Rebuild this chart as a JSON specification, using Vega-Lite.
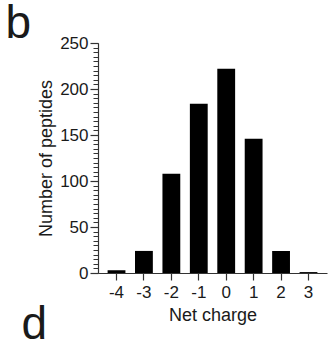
{
  "$schema": "https://vega.github.io/schema/vega-lite/v6.json",
  "width": 229,
  "height": 230,
  "autosize": {"type": "none"},
  "padding": {"left": 98, "top": 43, "right": 1, "bottom": 66},
  "background": "white",
  "config": {
    "view": {"stroke": null},
    "font": "Liberation Sans",
    "axis": {"grid": false, "labelColor": "#1a1a1a", "titleColor": "#1a1a1a", "labelFont": "Liberation Sans", "titleFont": "Liberation Sans", "titleFontWeight": "normal"}
  },
  "data": {
    "values": [
      {"charge": "-4", "count": 3},
      {"charge": "-3", "count": 24},
      {"charge": "-2", "count": 108},
      {"charge": "-1", "count": 184},
      {"charge": "0", "count": 222},
      {"charge": "1", "count": 146},
      {"charge": "2", "count": 24},
      {"charge": "3", "count": 1}
    ]
  },
  "resolve": {"axis": {"x": "independent", "y": "independent"}},
  "layer": [
    {
      "mark": {"type": "rule", "opacity": 0},
      "encoding": {
        "x": {"field": "charge", "type": "ordinal", "sort": null,
          "axis": {"orient": "bottom", "labels": false, "ticks": false, "domain": false, "title": "d", "titleFontSize": 46, "titleAngle": 0, "titleAlign": "left", "titleBaseline": "alphabetic", "titleX": -77, "titleY": 65}},
        "y": {"field": "count", "type": "quantitative",
          "axis": {"orient": "left", "labels": false, "domain": false, "ticks": true, "tickColor": "#333", "tickWidth": 1, "tickSize": 5,
            "values": [0,5,10,15,20,25,30,35,40,45,50,55,60,65,70,75,80,85,90,95,100,105,110,115,120,125,130,135,140,145,150,155,160,165,170,175,180,185,190,195,200,205,210,215,220,225,230,235,240,245,250],
            "title": "b", "titleFontSize": 46, "titleAngle": 0, "titleAlign": "left", "titleBaseline": "alphabetic", "titleX": -93, "titleY": -6}}
      }
    },
    {
      "mark": {"type": "bar", "color": "black"},
      "encoding": {
        "x": {"field": "charge", "type": "ordinal", "sort": null,
          "scale": {"paddingInner": 0.35, "paddingOuter": 0.35},
          "axis": {"orient": "bottom", "title": "Net charge", "labelAngle": 0, "labelFontSize": 17, "titleFontSize": 18, "tickSize": 7, "labelPadding": 4, "titlePadding": 6, "domainColor": "#333", "tickColor": "#333", "domainWidth": 1.2, "tickWidth": 1.2}},
        "y": {"field": "count", "type": "quantitative",
          "scale": {"domain": [0, 250], "nice": false},
          "axis": {"orient": "left", "title": "Number of peptides", "values": [0, 50, 100, 150, 200, 250], "labelFontSize": 17, "titleFontSize": 18, "tickSize": 8, "labelPadding": 2, "titlePadding": 4, "domainColor": "#333", "tickColor": "#333", "domainWidth": 1.2, "tickWidth": 1.2}}
      }
    }
  ]
}
